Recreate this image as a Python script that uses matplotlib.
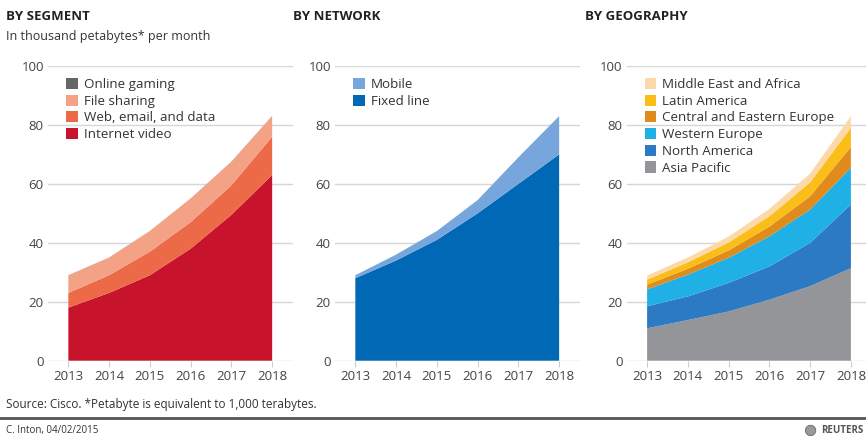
import matplotlib
matplotlib.use("Agg")
import matplotlib.pyplot as plt
from matplotlib.patches import Patch, Ellipse

plt.rcParams['font.family'] = ['Open Sans', 'DejaVu Sans']

years = [2013, 2014, 2015, 2016, 2017, 2018]

# By segment (thousand petabytes per month)
video = [18, 23, 29, 38, 49.5, 63]
web = [5, 6, 8, 9, 10, 13]
file_sharing = [6, 6, 7, 8, 8, 7]
gaming = [0.02, 0.02, 0.03, 0.04, 0.05, 0.06]
segment_labels = ["Internet video", "Web, email, and data", "File sharing", "Online gaming"]
segment_colors = ["#c8132c", "#ec6a48", "#f4a285", "#666666"]

# By network
fixed_line = [28, 34, 41, 50, 60, 70]
mobile = [1, 2, 3, 4.5, 9, 13]
network_labels = ["Fixed line", "Mobile"]
network_colors = ["#0068b5", "#77a6dc"]

# By geography
asia_pacific = [11, 13.8, 16.7, 20.7, 25.3, 31.4]
north_america = [7.5, 8, 9.7, 11.3, 14.7, 21.6]
western_europe = [5.7, 7.4, 8.5, 10.2, 11.3, 12.5]
central_eastern_europe = [1.6, 2, 2.5, 3.3, 4.5, 7]
latin_america = [1.7, 2.2, 2.7, 3.5, 4.7, 6.5]
middle_east_africa = [1.4, 1.6, 2, 2.5, 3, 4]
geo_labels = ["Asia Pacific", "North America", "Western Europe",
              "Central and Eastern Europe", "Latin America", "Middle East and Africa"]
geo_colors = ["#939598", "#2c79c4", "#1fb0e6", "#df8c1c", "#fbbd17", "#fdd8a8"]

fig = plt.figure(figsize=(8.66, 4.37), dpi=100)

panels = [
    (0.0554, "BY SEGMENT", [video, web, file_sharing, gaming], segment_labels, segment_colors),
    (0.3868, "BY NETWORK", [fixed_line, mobile], network_labels, network_colors),
    (0.7237, "BY GEOGRAPHY", [asia_pacific, north_america, western_europe,
                              central_eastern_europe, latin_america, middle_east_africa],
     geo_labels, geo_colors),
]

for left, title, series, labels, colors in panels:
    ax = fig.add_axes([left, 0.1746, 0.2824, 0.6744])
    ax.stackplot(years, *series, colors=colors, linewidth=0, zorder=2)
    ax.set_xlim(2012.5, 2018.5)
    ax.set_ylim(0, 100)
    ax.set_yticks([0, 20, 40, 60, 80, 100])
    ax.set_xticks(years)
    ax.grid(axis='y', color='#d6d6d6', linewidth=1, zorder=0)
    for side in ax.spines.values():
        side.set_visible(False)
    ax.tick_params(axis='y', length=0, pad=3, labelsize=9.5, labelcolor='#444444')
    ax.tick_params(axis='x', length=4, width=0.8, color='#cccccc', pad=3,
                   labelsize=9.5, labelcolor='#444444')

    handles = [Patch(facecolor=c, edgecolor='none') for c in colors][::-1]
    ax.legend(handles, labels[::-1], loc='upper left', bbox_to_anchor=(0.075, 0.96),
              frameon=False, fontsize=9.6, handlelength=0.85, handleheight=0.9,
              handletextpad=0.45, labelspacing=0.27, borderpad=0, borderaxespad=0,
              labelcolor='#333333')

    fig.text(left - 0.0485, 0.962, title, fontsize=9.5, fontweight='bold',
             color='#222222', va='center')

fig.text(0.007, 0.917, "In thousand petabytes* per month", fontsize=9,
         color='#333333', va='center')
fig.text(0.007, 0.075, "Source: Cisco. *Petabyte is equivalent to 1,000 terabytes.",
         fontsize=8.5, color='#333333', va='center')
fig.add_artist(plt.Line2D([0, 1], [0.043, 0.043], color='#555555', linewidth=2))
fig.text(0.007, 0.015, "C. Inton, 04/02/2015", fontsize=7, color='#333333', va='center')
fig.text(0.997, 0.015, "REUTERS", fontsize=7, fontweight='bold', color='#555555',
         va='center', ha='right')
fig.add_artist(Ellipse((0.936, 0.015), 0.012, 0.012 * 866 / 437, transform=fig.transFigure,
                       facecolor='#999999', edgecolor='#666666', linewidth=0.6))

fig.savefig("out.png", dpi=100)
